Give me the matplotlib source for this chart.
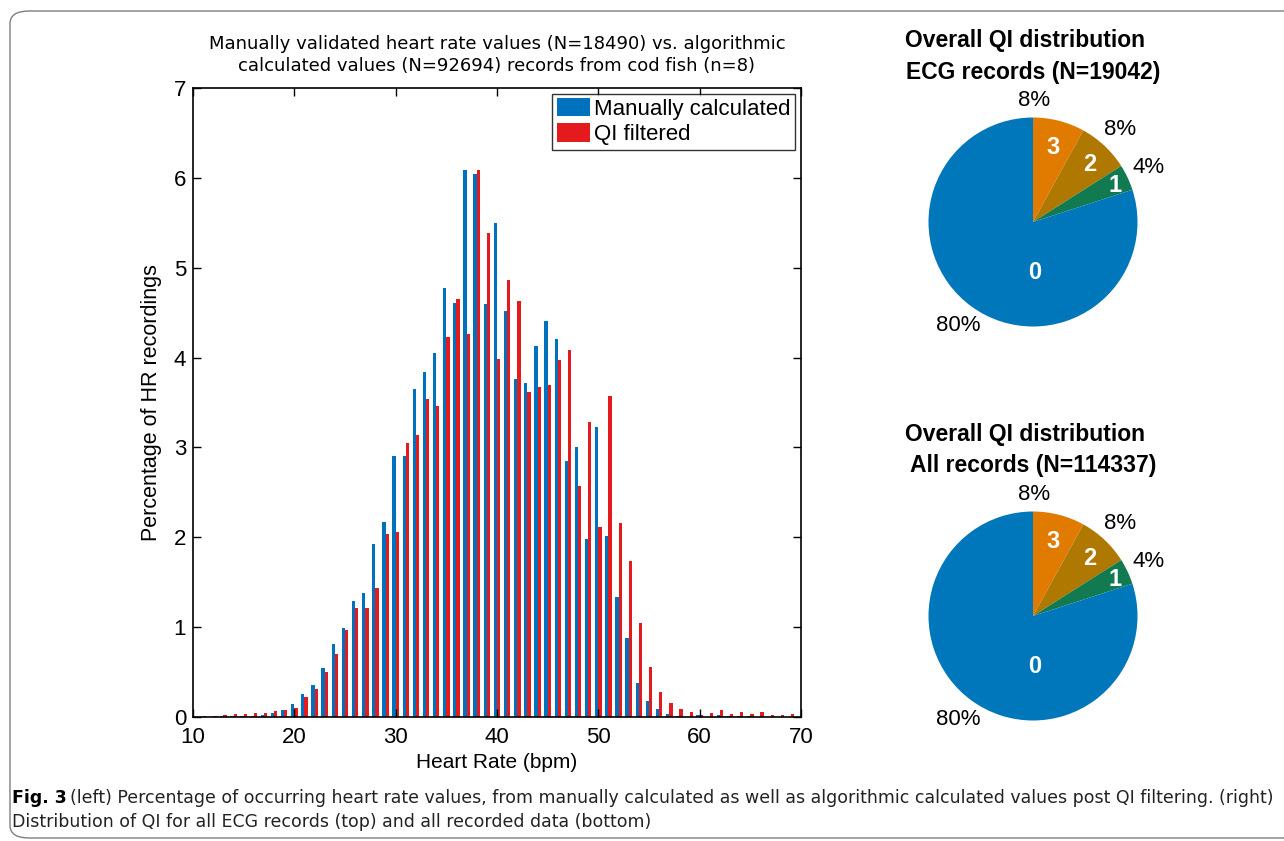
import numpy as np
import matplotlib.pyplot as plt
from matplotlib.patches import FancyBboxPatch

# Heart rate bins (bpm) and percentage of recordings in each bin
hr_bins = np.arange(10, 71)
manual_pct = [0.005, 0.005, 0.005, 0.008, 0.01, 0.01, 0.015, 0.02, 0.045, 0.08,
              0.14, 0.26, 0.36, 0.55, 0.81, 0.99, 1.29, 1.38, 1.92, 2.17,
              2.90, 2.90, 3.65, 3.84, 4.05, 4.77, 4.61, 6.09, 6.04, 4.60,
              5.50, 4.52, 3.76, 3.72, 4.13, 4.41, 4.21, 2.85, 3.01, 1.98,
              3.23, 2.01, 1.34, 0.88, 0.375, 0.18, 0.085, 0.03, 0.007, 0.004,
              0.02, 0.004, 0.02, 0.015, 0.01, 0.015, 0.004, 0.0, 0.0, 0.0, 0.0]
qi_pct = [0.005, 0.01, 0.01, 0.02, 0.03, 0.035, 0.04, 0.05, 0.07, 0.08,
          0.10, 0.22, 0.31, 0.50, 0.70, 0.965, 1.21, 1.21, 1.44, 2.04,
          2.06, 3.05, 3.14, 3.54, 3.46, 4.23, 4.65, 4.26, 6.09, 5.39,
          3.98, 4.86, 4.63, 3.62, 3.67, 3.70, 3.97, 4.08, 2.57, 3.28,
          2.12, 3.57, 2.16, 1.74, 1.05, 0.56, 0.275, 0.155, 0.085, 0.055,
          0.02, 0.048, 0.078, 0.037, 0.052, 0.033, 0.06, 0.02, 0.022, 0.037, 0.01]

# QI class shares, drawn clockwise from 12 o'clock
qi_classes = ['3', '2', '1', '0']
qi_colors = ['#E07B00', '#AF7800', '#117A50', '#0077BB']
ecg_share = [8, 8, 4, 80]
all_share = [8, 8, 4, 80]

BLUE = '#0072BD'
RED = '#E41A1C'
W, H = 1284, 841

fig = plt.figure(figsize=(W / 100, H / 100), dpi=100)


def px_axes(left, top, right, bottom):
    return fig.add_axes([left / W, 1 - bottom / H, (right - left) / W, (bottom - top) / H])


# rounded frame around the whole figure
fig.patches.append(FancyBboxPatch((10 / W, 1 - 838 / H), 1300 / W, 827 / H,
                                  boxstyle='round,pad=0,rounding_size=0.015',
                                  transform=fig.transFigure, fill=False,
                                  edgecolor='#7f7f7f', lw=1.0))

# ---- histogram ----
ax = px_axes(193, 88, 801, 717)
bw = 0.32
ax.bar(hr_bins - bw / 2, manual_pct, width=bw, color=BLUE, edgecolor='none',
       label='Manually calculated')
ax.bar(hr_bins + bw / 2, qi_pct, width=bw, color=RED, edgecolor='none',
       label='QI filtered')
ax.set_xlim(10, 70)
ax.set_ylim(0, 7)
ax.set_xticks(np.arange(10, 71, 10))
ax.set_yticks(np.arange(0, 8, 1))
ax.tick_params(direction='in', top=True, right=True, length=6, width=1,
               labelsize=16)
ax.tick_params(axis='x', pad=7)
ax.tick_params(axis='y', pad=5)
for lab in ax.get_xticklabels() + ax.get_yticklabels():
    lab.set_family('Liberation Sans')
for s in ax.spines.values():
    s.set_linewidth(1.2)
ax.set_xlabel('Heart Rate (bpm)', family='Liberation Sans', fontsize=15, labelpad=4)
ax.set_ylabel('Percentage of HR recordings', family='Liberation Sans', fontsize=15.5,
              labelpad=8)
ax.set_title('Manually validated heart rate values (N=18490) vs. algorithmic\n'
             'calculated values (N=92694) records from cod fish (n=8)',
             family='DejaVu Sans', fontsize=13, pad=12, linespacing=1.32)
leg = ax.legend(loc='upper right', prop={'family': 'Liberation Sans', 'size': 16},
                frameon=True, fancybox=False, edgecolor='black', borderpad=0.2,
                handlelength=1.5, handleheight=0.9, handletextpad=0.2,
                labelspacing=0.15, borderaxespad=0.25)
leg.get_frame().set_linewidth(1.0)


# ---- pies ----
def draw_pie(cx, cy, shares, title):
    r = 104.5
    half = 1.5 * r
    pax = px_axes(cx - half, cy - half, cx + half, cy + half)
    wedges, _ = pax.pie(shares, colors=qi_colors, startangle=90, counterclock=False,
                        radius=1.0, wedgeprops={'linewidth': 0})
    pax.set_xlim(-1.5, 1.5)
    pax.set_ylim(-1.5, 1.5)
    pax.set_aspect('equal')
    pax.axis('off')
    # outer percentage labels and inner class labels
    out_shift = [14, 0, 0, 0]
    out_dist = [1.16, 1.22, 1.22, 1.22]
    in_pos = [(75, 0.74), (45.5, 0.77), (23.7, 0.86), (-88, 0.48)]
    for i, w in enumerate(wedges):
        mid = np.deg2rad((w.theta1 + w.theta2) / 2 + out_shift[i])
        pax.text(out_dist[i] * np.cos(mid), out_dist[i] * np.sin(mid),
                 f'{shares[i]}%', ha='center', va='center',
                 family='Liberation Sans', fontsize=16)
        a, d = in_pos[i]
        pax.text(d * np.cos(np.deg2rad(a)), d * np.sin(np.deg2rad(a)), qi_classes[i],
                 ha='center', va='center', color='white', fontweight='bold',
                 family='Liberation Sans', fontsize=17)
    fig.text(cx / W - 0.006, 1 - (cy - 182) / H, title[0], ha='center', va='center',
             family='Liberation Sans', fontweight='bold', fontsize=16.5)
    fig.text(cx / W, 1 - (cy - 150) / H, title[1], ha='center', va='center',
             family='Liberation Sans', fontweight='bold', fontsize=16.5)


draw_pie(1033, 222, ecg_share, ('Overall QI distribution', 'ECG records (N=19042)'))
draw_pie(1033, 616, all_share, ('Overall QI distribution', 'All records (N=114337)'))

# ---- caption ----
cap_font = ['Liberation Sans Narrow', 'DejaVu Sans']
fig.text(12 / W, 1 - 798 / H, 'Fig. 3', family=cap_font, fontweight='bold',
         fontsize=12.5, va='center', ha='left')
fig.text(70 / W, 1 - 798 / H,
         '(left) Percentage of occurring heart rate values, from manually calculated as well '
         'as algorithmic calculated values post QI filtering. (right)',
         family=cap_font, fontsize=12.5, va='center', ha='left', color='#222222')
fig.text(12 / W, 1 - 822 / H,
         'Distribution of QI for all ECG records (top) and all recorded data (bottom)',
         family=cap_font, fontsize=12.5, va='center', ha='left', color='#222222')

fig.savefig('out.png', dpi=100)
